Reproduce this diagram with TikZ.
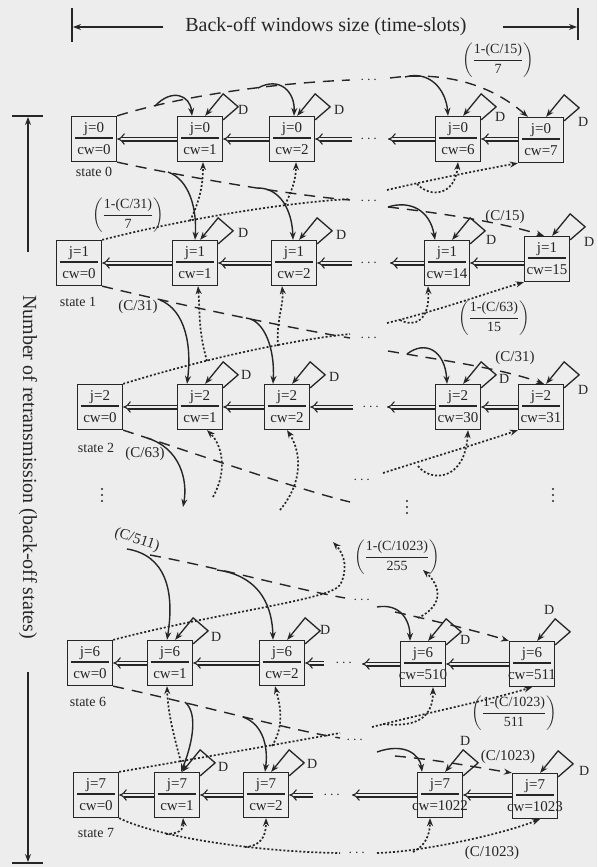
\documentclass[tikz,border=0pt]{standalone}
\usepackage{fontspec}
\setmainfont{Liberation Serif}
\usepackage{amsmath}
\usetikzlibrary{arrows.meta,calc}
\definecolor{bg}{gray}{0.93}
\definecolor{ink}{gray}{0.15}
\newcommand\mkbox[5]{%
 \node[sbox] (#1) at (#2,#3) {};
 \draw[divl] ($(#1.west)+(4,-1)$) -- ($(#1.east)+(-4,-1)$);
 \node[btxt] (#1j) at ($(#1.center)+(0,-10)$) {j=#4};
 \node[btxt] (#1c) at ($(#1.center)+(0,11)$) {cw=#5};}
\newcommand\mkloop[3]{%
 \draw[loopst] ($(#1.north east)+(0,4)$) -- ++(15,-13) -- ++(-15,-13) -- ($(#1.north east)+(-18,0)$);
 \node[dl] (D#1) at ($(#1.north east)+(#2,#3)$) {D};}
\newcommand\vdotsat[1]{%
 \fill[ink] ($(#1)+(0,-6)$) circle (1.2) ($(#1)$) circle (1.2) ($(#1)+(0,6)$) circle (1.2);}
\newcommand\fraclbl[2]{$\left(\dfrac{\text{#1}}{\text{#2}}\right)$}
\begin{document}
\begin{tikzpicture}[x=1pt,y=-1pt,
 sbox/.style={draw=ink,line width=1.3pt,minimum width=45pt,minimum height=45pt,inner sep=0pt},
 divl/.style={draw=ink,line width=1.1pt},
 btxt/.style={inner sep=0pt,font=\fontsize{15}{15}\selectfont,text=ink},
 dl/.style={inner sep=0pt,font=\fontsize{14}{14}\selectfont,text=ink},
 lbl/.style={inner sep=0pt,font=\fontsize{15}{15}\selectfont,text=ink},
 flbl/.style={inner sep=0pt,font=\fontsize{14}{14}\selectfont,text=ink},
 stlbl/.style={inner sep=0pt,font=\fontsize{14}{14}\selectfont,text=ink},
 dotsn/.style={inner sep=0pt,font=\fontsize{14}{14}\selectfont,text=ink},
 axt/.style={inner sep=0pt,font=\fontsize{20}{20}\selectfont,text=ink},
 dsh/.style={draw=ink,line width=1.4pt,dash pattern=on 11pt off 8pt},
 dtd/.style={draw=ink,line width=1.7pt,dash pattern=on 2pt off 2pt},
 sol/.style={draw=ink,line width=1.4pt},
 tip/.style={-{Stealth[length=8pt,width=6pt]}},
 dbl/.style={draw=ink,double=bg,double distance=2.8pt,line width=1.1pt,-{Implies}},
 loopst/.style={draw=ink,line width=1.3pt,-{Stealth[length=8pt,width=6pt]}},
 axl/.style={draw=ink,line width=1.2pt}]
\fill[bg] (0,0) rectangle (597,867);
\useasboundingbox (0,0) rectangle (597,867);
% axes
\node[axt] (xt) at (326,27) {Back-off windows size (time-slots)};
\coordinate (xl0) at (72,8); \coordinate (xl1) at (72,42);
\coordinate (xla) at (163,27); \coordinate (xlb) at (73,27);
\coordinate (xr0) at (578,8); \coordinate (xr1) at (578,40);
\coordinate (xra) at (503,27); \coordinate (xrb) at (577,27);
\draw[axl] (xl0) -- (xl1); \draw[axl,tip] (xla) -- (xlb);
\draw[axl] (xr0) -- (xr1); \draw[axl,tip] (xra) -- (xrb);
\node[axt,rotate=-90] (yt) at (28,467) {Number of retransmission (back-off states)};
\coordinate (yt0) at (12,116); \coordinate (yt1) at (43,116);
\coordinate (yta) at (28,252); \coordinate (ytb) at (28,117);
\coordinate (yb0) at (12,863); \coordinate (yb1) at (43,863);
\coordinate (yba) at (28,672); \coordinate (ybb) at (28,862);
\draw[axl] (yt0) -- (yt1); \draw[axl,tip] (yta) -- (ytb);
\draw[axl] (yb0) -- (yb1); \draw[axl,tip] (yba) -- (ybb);
% boxes
\mkbox{a0}{94}{139}{0}{0}
\mkbox{a1}{200}{139}{0}{1}
\mkbox{a2}{292}{139}{0}{2}
\mkbox{a6}{458}{139}{0}{6}
\mkbox{a7}{541}{140}{0}{7}
\mkbox{b0}{79}{263}{1}{0}
\mkbox{b1}{195}{263}{1}{1}
\mkbox{b2}{294}{263}{1}{2}
\mkbox{b14}{447}{263}{1}{14}
\mkbox{b15}{547}{259}{1}{15}
\mkbox{c0}{100}{407}{2}{0}
\mkbox{c1}{200}{407}{2}{1}
\mkbox{c2}{287}{407}{2}{2}
\mkbox{c30}{458}{407}{2}{30}
\mkbox{c31}{541}{407}{2}{31}
\mkbox{d0}{90}{663}{6}{0}
\mkbox{d1}{170}{663}{6}{1}
\mkbox{d2}{282}{663}{6}{2}
\mkbox{d510}{423}{664}{6}{510}
\mkbox{d511}{532}{664}{6}{511}
\mkbox{e0}{96}{795}{7}{0}
\mkbox{e1}{177}{795}{7}{1}
\mkbox{e2}{266}{795}{7}{2}
\mkbox{e1022}{440}{795}{7}{1022}
\mkbox{e1023}{535}{796}{7}{1023}
% state labels
\node[stlbl] (st0) at (94,172) {state 0};
\node[stlbl] (st1) at (78,302) {state 1};
\node[stlbl] (st2) at (96,448) {state 2};
\node[stlbl] (st6) at (88,702) {state 6};
\node[stlbl] (st7) at (96,833) {state 7};
% loops
\mkloop{a1}{20}{-6} \mkloop{a2}{24}{-6} \mkloop{a6}{19}{1} \mkloop{a7}{19}{5}
\mkloop{b1}{25}{-7} \mkloop{b2}{24}{-5} \mkloop{b14}{21}{0} \mkloop{b15}{19}{6}
\mkloop{c1}{23}{-9} \mkloop{c2}{24}{-7} \mkloop{c30}{23}{-5} \mkloop{c31}{19}{6}
\mkloop{d1}{23}{-3} \mkloop{d2}{20}{-10} \mkloop{d510}{19}{-1} \mkloop{d511}{-6}{-31}
\mkloop{e1}{23}{-5} \mkloop{e2}{23}{-8} \mkloop{e1022}{2}{-31} \mkloop{e1023}{26}{-2}
% double arrows
\draw[dbl] (a1.west) -- (a0.east);
\draw[dbl] (a2.west) -- (a1.east);
\coordinate (a2s) at (352,139); \draw[dbl] (a2s) -- (a2.east);
\node[dotsn] (a2d) at (370,139) {$\cdots$};
\coordinate (a6s) at (388,139); \draw[dbl] (a6.west) -- (a6s);
\draw[dbl] (a7.west |- a6.east) -- (a6.east);
\draw[dbl] (b1.west) -- (b0.east);
\draw[dbl] (b2.west) -- (b1.east);
\coordinate (b2s) at (352,263); \draw[dbl] (b2s) -- (b2.east);
\node[dotsn] (b2d) at (370,263) {$\cdots$};
\coordinate (b14s) at (390,263); \draw[dbl] (b14.west) -- (b14s);
\draw[dbl] (b15.west |- b14.east) -- (b14.east);
\draw[dbl] (c1.west) -- (c0.east);
\draw[dbl] (c2.west) -- (c1.east);
\coordinate (c2s) at (353,407); \draw[dbl] (c2s) -- (c2.east);
\node[dotsn] (c2d) at (372,407) {$\cdots$};
\coordinate (c30s) at (387,407); \draw[dbl] (c30.west) -- (c30s);
\draw[dbl] (c31.west) -- (c30.east);
\draw[dbl] (d1.west) -- (d0.east);
\draw[dbl] (d2.west) -- (d1.east);
\coordinate (d2s) at (324,663); \draw[dbl] (d2s) -- (d2.east);
\node[dotsn] (d2d) at (345,663) {$\cdots$};
\coordinate (d510s) at (362,664); \draw[dbl] (d510.west) -- (d510s);
\draw[dbl] (d511.west) -- (d510.east);
\draw[dbl] (e1.west) -- (e0.east);
\draw[dbl] (e2.west) -- (e1.east);
\coordinate (e2s) at (313,795); \draw[dbl] (e2s) -- (e2.east);
\node[dotsn] (e2d) at (333,795) {$\cdots$};
\coordinate (e1022s) at (352,795); \draw[dbl] (e1022.west) -- (e1022s);
\draw[dbl] (e1023.west |- e1022.east) -- (e1022.east);
% labels
\node[flbl] (f1) at (498,60) {\fraclbl{1-(C/15)}{7}};
\node[flbl] (f2) at (128,215) {\fraclbl{1-(C/31)}{7}};
\node[lbl] (l1) at (505,217) {(C/15)};
\node[lbl] (l2) at (138,307) {(C/31)};
\node[flbl] (f3) at (494,318) {\fraclbl{1-(C/63)}{15}};
\node[lbl] (l3) at (515,358) {(C/31)};
\node[lbl] (l4) at (145,454) {(C/63)};
\node[lbl,rotate=-18] (l5) at (137,540) {(C/511)};
\node[flbl] (f4) at (397,557) {\fraclbl{1-(C/1023)}{255}};
\node[flbl] (f5) at (514,713) {\fraclbl{1-(C/1023)}{511}};
\node[lbl] (l6) at (508,757) {(C/1023)};
\node[lbl] (l7) at (492,853) {(C/1023)};
% row 0 top
\coordinate (t0a) at (155,106); \coordinate (t0b) at (258,88);
\coordinate (t0c) at (350,80); \coordinate (t0d) at (390,78); \coordinate (t0e) at (405,77);
\node[dotsn] (t0dots) at (370,80) {$\cdots$};
\draw[dsh] (a0.north east) .. controls (175,98) and (260,84) .. (t0c);
\draw[dsh,tip] (t0d) .. controls (450,70) and (495,88) .. ($(a7.north west)+(10,0)$);
\draw[sol,tip] (t0a) .. controls (172,88) and (190,95) .. ($(a1.north)+(-8,0)$);
\draw[sol,tip] (t0b) .. controls (280,76) and (295,92) .. ($(a2.north)+(2,0)$);
\draw[sol,tip] (t0e) .. controls (430,70) and (446,90) .. ($(a6.north)+(-10,0)$);
% row 0 -> row 1
\coordinate (m01a) at (350,200); \coordinate (m01b) at (388,207);
\node[dotsn] (m01dots) at (370,201) {$\cdots$};
\draw[dsh] (a0.south east) .. controls (200,180) and (300,196) .. (m01a);
\draw[dsh,tip] (m01b) .. controls (440,213) and (500,222) .. ($(b15.north)+(-3,0)$);
\coordinate (s01a) at (168,172); \coordinate (s01b) at (258,188);
\draw[sol,tip] (s01a) .. controls (190,180) and (197,210) .. (b1.north);
\draw[sol,tip] (s01b) .. controls (280,188) and (292,210) .. ($(b2.north)+(-1,0)$);
\draw[sol,tip] (m01b) .. controls (410,200) and (430,210) .. ($(b14.north)+(-12,0)$);
\coordinate (u10a) at (350,199); \coordinate (u10b) at (387,190);
\draw[dtd] (b0.north east) .. controls (180,220) and (280,203) .. (u10a);
\draw[dtd,tip] (u10b) .. controls (430,180) and (480,170) .. (a7.south west);
\coordinate (p10a) at (190,221); \coordinate (p10b) at (285,205); \coordinate (p10c) at (417,184);
\draw[dtd,tip] (p10a) .. controls (200,200) and (203,185) .. ($(a1.south)+(3,0)$);
\draw[dtd,tip] (p10b) .. controls (292,190) and (296,180) .. ($(a2.south)+(4,0)$);
\draw[dtd,tip] (p10c) .. controls (430,198) and (455,196) .. (a6.south);
% row 1 -> row 2
\coordinate (m12a) at (350,338); \coordinate (m12b) at (388,351);
\node[dotsn] (m12dots) at (370,338) {$\cdots$};
\draw[dsh] (b0.south east) .. controls (180,305) and (290,328) .. (m12a);
\draw[dsh,tip] (m12b) .. controls (440,360) and (500,368) .. ($(c31.north)+(3,0)$);
\coordinate (s12a) at (160,300); \coordinate (s12b) at (246,318); \coordinate (s12c) at (407,354);
\draw[sol,tip] (s12a) .. controls (185,310) and (192,345) .. ($(c1.north)+(-13,0)$);
\draw[sol,tip] (s12b) .. controls (265,320) and (275,350) .. ($(c2.north)+(-14,0)$);
\draw[sol,tip] (s12c) .. controls (425,340) and (445,350) .. ($(c30.north)+(-11,0)$);
\coordinate (u21a) at (350,334); \coordinate (u21b) at (387,323);
\draw[dtd] (c0.north east) .. controls (200,360) and (290,340) .. (u21a);
\draw[dtd,tip] (u21b) .. controls (440,310) and (490,292) .. (b15.south west);
\coordinate (p21a) at (207,361); \coordinate (p21b) at (278,346); \coordinate (p21c) at (400,320);
\draw[dtd,tip] (p21a) .. controls (198,330) and (200,310) .. ($(b1.south)+(3,0)$);
\draw[dtd,tip] (p21b) .. controls (276,320) and (284,305) .. ($(b2.south)+(-12,0)$);
\draw[dtd,tip] (p21c) .. controls (415,328) and (430,320) .. ($(b14.south)+(-19,0)$);
% row 2 bottom
\coordinate (m2a) at (350,502);
\draw[dsh] (c0.south east) .. controls (200,455) and (300,490) .. (m2a);
\coordinate (s2a) at (147,438); \coordinate (s2b) at (183,507);
\draw[sol,tip] (s2a) .. controls (180,448) and (188,480) .. (s2b);
\coordinate (u2a) at (383,473);
\node[dotsn] (u2dots) at (363,480) {$\cdots$};
\draw[dtd,tip] (u2a) .. controls (430,458) and (480,443) .. (c31.south west);
\coordinate (p2a) at (213,497); \coordinate (p2b) at (280,510); \coordinate (p2c) at (418,466);
\draw[dtd,tip] (p2a) .. controls (228,470) and (222,445) .. ($(c1.south)+(7,0)$);
\draw[dtd,tip] (p2b) .. controls (305,480) and (300,450) .. (c2.south);
\draw[dtd,tip] (p2c) .. controls (430,482) and (465,482) .. ($(c30.south)+(10,0)$);
\coordinate (v1) at (102,495); \coordinate (v2) at (407,507); \coordinate (v3) at (553,495);
\vdotsat{v1} \vdotsat{v2} \vdotsat{v3}
% row 6 top
\coordinate (s6a) at (127,549); \coordinate (s6b) at (217,570); \coordinate (s6c) at (377,607);
\coordinate (m6a) at (150,555); \coordinate (m6b) at (345,598); \coordinate (m6c) at (395,612);
\draw[dsh] (m6a) .. controls (220,568) and (290,588) .. (m6b);
\node[dotsn] (m6dots) at (363,600) {$\cdots$};
\draw[dsh,tip] (m6c) .. controls (440,622) and (480,632) .. (d511.north west);
\draw[sol,tip] (s6a) .. controls (165,555) and (175,590) .. ($(d1.north)+(-3,0)$);
\draw[sol,tip] (s6b) .. controls (255,575) and (272,600) .. ($(d2.north)+(-9,0)$);
\draw[sol,tip] (s6c) .. controls (400,603) and (410,620) .. ($(d510.north)+(-13,0)$);
\coordinate (u6a) at (333,542); \coordinate (u6m) at (340,585);
\coordinate (u6b) at (423,570); \coordinate (u6c) at (418,618);
\draw[dtd,tip] (d0.north east) .. controls (220,612) and (330,600) .. (u6m) .. controls (348,570) and (345,555) .. (u6a);
\draw[dtd,tip] (u6c) .. controls (445,605) and (440,585) .. (u6b);
% row 6 -> row 7
\coordinate (m67a) at (340,738); \coordinate (m67b) at (395,756);
\node[dotsn] (m67dots) at (356,740) {$\cdots$};
\draw[dsh] (d0.south east) .. controls (200,705) and (290,730) .. (m67a);
\draw[dsh,tip] (m67b) .. controls (440,760) and (480,768) .. (e1023.north west);
\coordinate (s67a) at (185,702); \coordinate (s67b) at (243,717); \coordinate (s67c) at (377,752);
\draw[sol,tip] (s67a) .. controls (200,715) and (190,750) .. ($(e1.north)+(4,0)$);
\draw[sol,tip] (s67b) .. controls (265,725) and (268,750) .. ($(e2.north)+(-1,0)$);
\draw[sol,tip] (s67c) .. controls (405,742) and (420,755) .. ($(e1022.north)+(-18,0)$);
\coordinate (u76a) at (340,733); \coordinate (u76b) at (372,727);
\draw[dtd] (e0.north east) .. controls (200,758) and (290,742) .. (u76a);
\draw[dtd,tip] (u76b) .. controls (430,712) and (490,700) .. (d511.south);
\coordinate (p76a) at (181,762); \coordinate (p76b) at (272,746); \coordinate (p76c) at (383,724);
\draw[dtd,tip] (p76a) .. controls (175,740) and (168,715) .. ($(d1.south)+(-3,0)$);
\draw[dtd,tip] (p76b) .. controls (285,725) and (280,705) .. ($(d2.south)+(-7,0)$);
\draw[dtd,tip] (p76c) .. controls (420,728) and (433,715) .. ($(d510.south)+(10,0)$);
% row 7 bottom
\coordinate (m7a) at (340,853); \coordinate (m7b) at (377,853);
\node[dotsn] (m7dots) at (358,853) {$\cdots$};
\draw[dtd] (e0.south east) .. controls (160,838) and (260,852) .. (m7a);
\draw[dtd,tip] (m7b) .. controls (420,852) and (500,835) .. ($(e1023.south)+(5,0)$);
\coordinate (p7a) at (166,834); \coordinate (p7b) at (245,847); \coordinate (p7c) at (413,852);
\draw[dtd,tip] (p7a) .. controls (178,834) and (184,830) .. ($(e1.south)+(6,0)$);
\draw[dtd,tip] (p7b) .. controls (262,846) and (266,835) .. (e2.south);
\draw[dtd,tip] (p7c) .. controls (425,846) and (430,835) .. ($(e1022.south)+(-10,0)$);
\end{tikzpicture}
\end{document}
